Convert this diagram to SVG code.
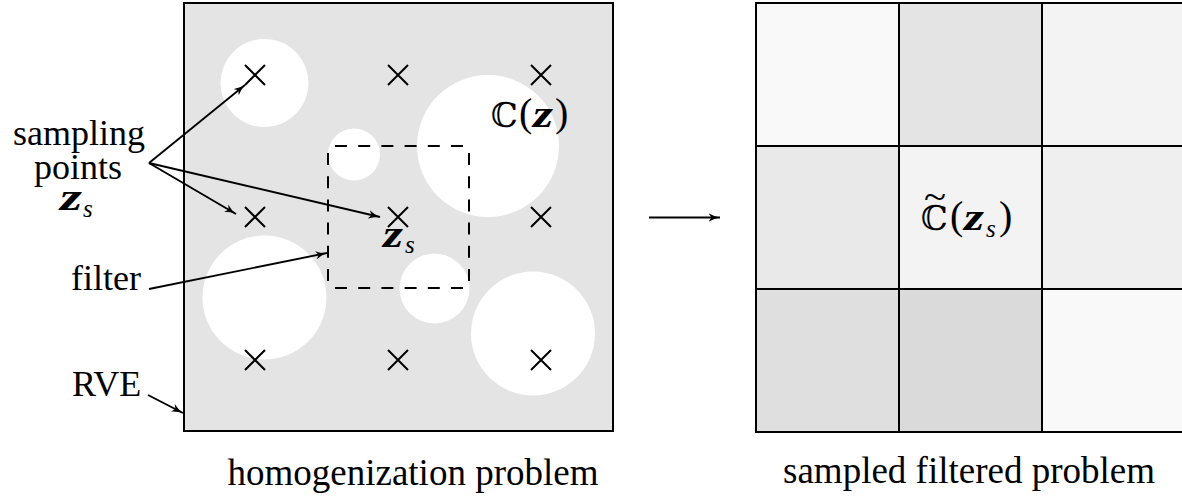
<svg xmlns="http://www.w3.org/2000/svg" width="1182" height="496" viewBox="0 0 1182 496">
<style>
.t{font-family:"Liberation Serif","Times New Roman",serif;font-size:36px;fill:#000}
.bb{font-family:"DejaVu Serif","DejaVu Sans",serif;font-size:34px;font-style:normal;font-weight:normal}
.z{font-family:"Liberation Serif",serif;font-size:38px;font-style:italic;font-weight:bold}
.s{font-family:"Liberation Serif",serif;font-size:25px;font-style:italic;font-weight:normal}
.p{font-family:"Liberation Serif",serif;font-size:40px;font-style:normal;font-weight:normal}
.ln{stroke:#000;stroke-width:1.9;fill:none}
.x{stroke:#000;stroke-width:2;fill:none}
.dash{stroke:#000;stroke-width:2;fill:none;stroke-dasharray:12 11.2}
.cell{stroke:#000;stroke-width:2}
</style>
<defs>
<marker id="ah" viewBox="0 0 12 9" refX="11.5" refY="4.5" markerWidth="12" markerHeight="9" markerUnits="userSpaceOnUse" orient="auto">
<path d="M0,0.3 Q5.5,3.6 11.5,4.5 Q5.5,5.4 0,8.7 L3,4.5 Z" fill="#000"/>
</marker>
</defs>
<rect width="1182" height="496" fill="#fff"/>

<g id="rve">
<rect x="184" y="3" width="429" height="428" fill="#e4e4e4" stroke="#000" stroke-width="2"/>
<g fill="#fff">
<circle cx="264.5" cy="83" r="44"/>
<circle cx="354" cy="154.5" r="26"/>
<circle cx="488" cy="146" r="71"/>
<circle cx="264.5" cy="297.5" r="62"/>
<circle cx="434.5" cy="288.5" r="35"/>
<circle cx="533" cy="333.5" r="62"/>
</g>
</g>

<g id="sampling-crosses">
<path class="x" d="M245,65 l20,20 m0,-20 l-20,20 M388,65 l20,20 m0,-20 l-20,20 M531,65 l20,20 m0,-20 l-20,20
M245,207 l20,20 m0,-20 l-20,20 M388,207 l20,20 m0,-20 l-20,20 M531,207 l20,20 m0,-20 l-20,20
M245,350 l20,20 m0,-20 l-20,20 M388,350 l20,20 m0,-20 l-20,20 M531,350 l20,20 m0,-20 l-20,20"/>
</g>

<g id="filter-box">
<line class="dash" x1="335" y1="146" x2="463" y2="146"/>
<line class="dash" x1="335" y1="288" x2="463" y2="288"/>
<line class="dash" x1="328" y1="153" x2="328" y2="281"/>
<line class="dash" x1="469" y1="153" x2="469" y2="281"/>
</g>

<g id="label-C">
<text fill="#000"><tspan class="bb" x="491" y="127">ℂ</tspan><tspan class="p" x="519" y="126">(</tspan><tspan class="z" x="533" y="127" textLength="20" lengthAdjust="spacingAndGlyphs">z</tspan><tspan class="p" x="555" y="126">)</tspan></text>
</g>

<g id="label-zs-center">
<text fill="#000"><tspan class="z" x="383" y="247" textLength="20" lengthAdjust="spacingAndGlyphs">z</tspan><tspan class="s" x="405" y="253">s</tspan></text>
</g>

<g id="label-sampling">
<text class="t"><tspan x="79" y="145" text-anchor="middle">sampling</tspan><tspan x="78" y="179" text-anchor="middle">points</tspan><tspan class="z" x="60" y="210" textLength="22" lengthAdjust="spacingAndGlyphs">z</tspan><tspan class="s" x="83" y="217">s</tspan></text>
</g>

<g id="label-filter">
<text class="t" x="71" y="290">filter</text>
</g>

<g id="label-rve">
<text class="t" x="72" y="396">RVE</text>
</g>

<g id="title-left">
<text class="t" x="413" y="485" text-anchor="middle" style="font-size:37px">homogenization problem</text>
</g>

<g id="grid">
<rect class="cell" x="756" y="3" width="143" height="143" fill="#f9f9f9"/>
<rect class="cell" x="899" y="3" width="143" height="143" fill="#e4e4e4"/>
<rect class="cell" x="1042" y="3" width="143" height="143" fill="#f3f3f3"/>
<rect class="cell" x="756" y="146" width="143" height="143" fill="#e9e9e9"/>
<rect class="cell" x="899" y="146" width="143" height="143" fill="#f3f3f3"/>
<rect class="cell" x="1042" y="146" width="143" height="143" fill="#efefef"/>
<rect class="cell" x="756" y="289" width="143" height="143" fill="#dfdfdf"/>
<rect class="cell" x="899" y="289" width="143" height="143" fill="#dadada"/>
<rect class="cell" x="1042" y="289" width="143" height="143" fill="#f9f9f9"/>
</g>

<g id="label-Ctilde">
<text fill="#000"><tspan class="p" x="924" y="209" style="font-size:38px" textLength="22" lengthAdjust="spacingAndGlyphs">~</tspan><tspan class="bb" x="921" y="230">ℂ</tspan><tspan class="p" x="950" y="229">(</tspan><tspan class="z" x="964" y="230" textLength="20" lengthAdjust="spacingAndGlyphs">z</tspan><tspan class="s" x="986" y="237">s</tspan><tspan class="p" x="999" y="229">)</tspan></text>
</g>

<g id="title-right">
<text class="t" x="969" y="483" text-anchor="middle" style="font-size:37px">sampled filtered problem</text>
</g>

<g id="connectors">
<line class="ln" x1="149" y1="163" x2="245" y2="85" marker-end="url(#ah)"/>
<line class="ln" x1="149" y1="163" x2="236" y2="214" marker-end="url(#ah)"/>
<line class="ln" x1="149" y1="163" x2="380" y2="217" marker-end="url(#ah)"/>
<line class="ln" x1="149" y1="289" x2="327" y2="253" marker-end="url(#ah)"/>
<line class="ln" x1="148" y1="395" x2="183" y2="413" marker-end="url(#ah)"/>
<line class="ln" x1="649" y1="217.5" x2="720" y2="217.5" marker-end="url(#ah)"/>
</g>
</svg>
